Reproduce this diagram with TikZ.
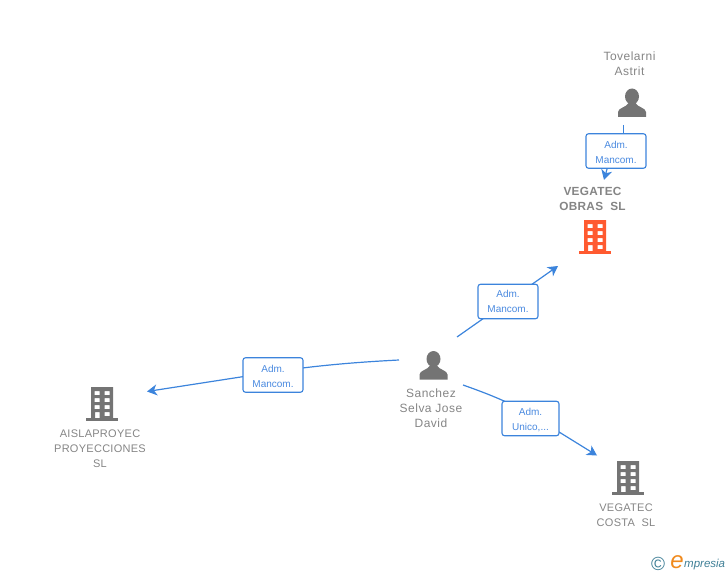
\documentclass[tikz,border=0pt]{standalone}
\usepackage{fontspec}
\setmainfont{Liberation Sans}
\newfontfamily\spaced[LetterSpace=4]{Liberation Sans}
\newfontfamily\spacedless[LetterSpace=2.5]{Liberation Sans}
\usetikzlibrary{arrows.meta}
\definecolor{linkblue}{HTML}{3C84DC}
\definecolor{labelblue}{HTML}{4A8AE0}
\definecolor{namegrey}{HTML}{858585}
\definecolor{icongrey}{HTML}{747474}
\definecolor{hotred}{HTML}{FF5A30}
\definecolor{logoteal}{HTML}{3F7F96}
\definecolor{logoorange}{HTML}{F08A1D}
\newcommand{\lowerline}{\rule{0pt}{9.5pt}}
\tikzset{
  x=1pt,y=-1pt,
  link/.style={draw=linkblue,line width=1.2pt},
  arrowlink/.style={link,-{Stealth[length=10pt,width=11pt,inset=3pt]}},
  rolebox/.style={draw=linkblue,line width=1.1pt,rounded corners=2.5pt,fill=white,minimum width=60pt,minimum height=34.5pt,inner sep=0pt,align=center,text=labelblue,font=\fontsize{10}{15}\selectfont},
  entityname/.style={text=namegrey,align=center,inner sep=0pt,font=\fontsize{12}{15}\selectfont\spaced},
  capsname/.style={entityname,font=\fontsize{11}{15}\selectfont\spacedless},
  boldname/.style={entityname,font=\fontsize{11.8}{15}\selectfont\bfseries\spacedless},
  person/.pic={
    \fill[icongrey] (0,-6.5) ellipse (7 and 8);
    \fill[icongrey] (-14,14) -- (-14,9) .. controls (-14,5) and (-6,4.5) .. (-3.5,0) -- (3.5,0) .. controls (6,4.5) and (14,5) .. (14,9) -- (14,14) -- cycle;
  },
  building/.pic={
    \fill[#1] (-16,14) rectangle (16,17);
    \fill[#1,even odd rule] (-11,-17) rectangle (11,15)
      (-7.5,-13) rectangle (-2.5,-9) (2.5,-13) rectangle (7.5,-9)
      (-7.5,-6) rectangle (-2.5,-2) (2.5,-6) rectangle (7.5,-2)
      (-7.5,1) rectangle (-2.5,5) (2.5,1) rectangle (7.5,5)
      (-7,8) rectangle (-2.5,15) (2.5,8) rectangle (7.5,12);
  }
}
\begin{document}
\begin{tikzpicture}
\useasboundingbox (0,0) rectangle (728,575);
% entity names
\node[entityname] (tov) at (629.5,64) {Tovelarni\\Astrit};
\node[boldname] (obras) at (592.5,199) {VEGATEC\\OBRAS\ \ SL};
\node[entityname] (san) at (431,408) {Sanchez\\Selva Jose\\David};
\node[capsname] (ais) at (100,449) {AISLAPROYEC\\PROYECCIONES\\SL};
\node[capsname] (cos) at (626,515.5) {VEGATEC\\COSTA\ \ SL};
% icons
\pic at (632,103) {person};
\pic at (433.5,365.5) {person};
\pic at (595,237) {building=hotred};
\pic at (102,404) {building=icongrey};
\pic at (628,478) {building=icongrey};
% connector ends
\coordinate (a1) at (623.5,125);
\coordinate (b1) at (604,180);
\coordinate (c1) at (609.5,160);
\coordinate (a2) at (457,337);
\coordinate (b2) at (558,266);
\coordinate (a3) at (399,360);
\coordinate (b3) at (147,391.5);
\coordinate (c3) at (273,372);
\coordinate (a4) at (463,385);
\coordinate (b4) at (597,455.5);
\coordinate (c4) at (530,414);
% connectors, drawn under the boxes
\draw[link] (a1) -- (623.5,140);
\draw[arrowlink] (c1) -- (b1);
\draw[arrowlink] (a2) -- (b2);
\draw[link] (a3) .. controls (360,362) and (320,365) .. (c3);
\draw[arrowlink] (c3) -- (b3);
\draw[link] (a4) .. controls (480,391) and (505,400) .. (c4);
\draw[arrowlink] (c4) -- (b4);
% role boxes
\node[rolebox] (r1) at (616,151) {\lowerline Adm.\\Mancom.};
\node[rolebox] (r2) at (508,301.5) {Adm.\\Mancom.};
\node[rolebox] (r3) at (273,375) {\lowerline Adm.\\Mancom.};
\node[rolebox,minimum width=57pt] (r4) at (530.5,418.5) {\lowerline Adm.\\Unico,...};
% logo
\node[text=logoteal,inner sep=0pt,font=\fontsize{19}{19}\selectfont] (copy) at (658,564) {©};
\node[text=logoorange,inner sep=0pt,font=\fontsize{24}{24}\selectfont\itshape] (loge) at (677,562) {e};
\node[text=logoteal,inner sep=0pt,anchor=west,font=\fontsize{11.5}{11.5}\selectfont\itshape] (logt) at (684,565) {mpresia};
\end{tikzpicture}
\end{document}
